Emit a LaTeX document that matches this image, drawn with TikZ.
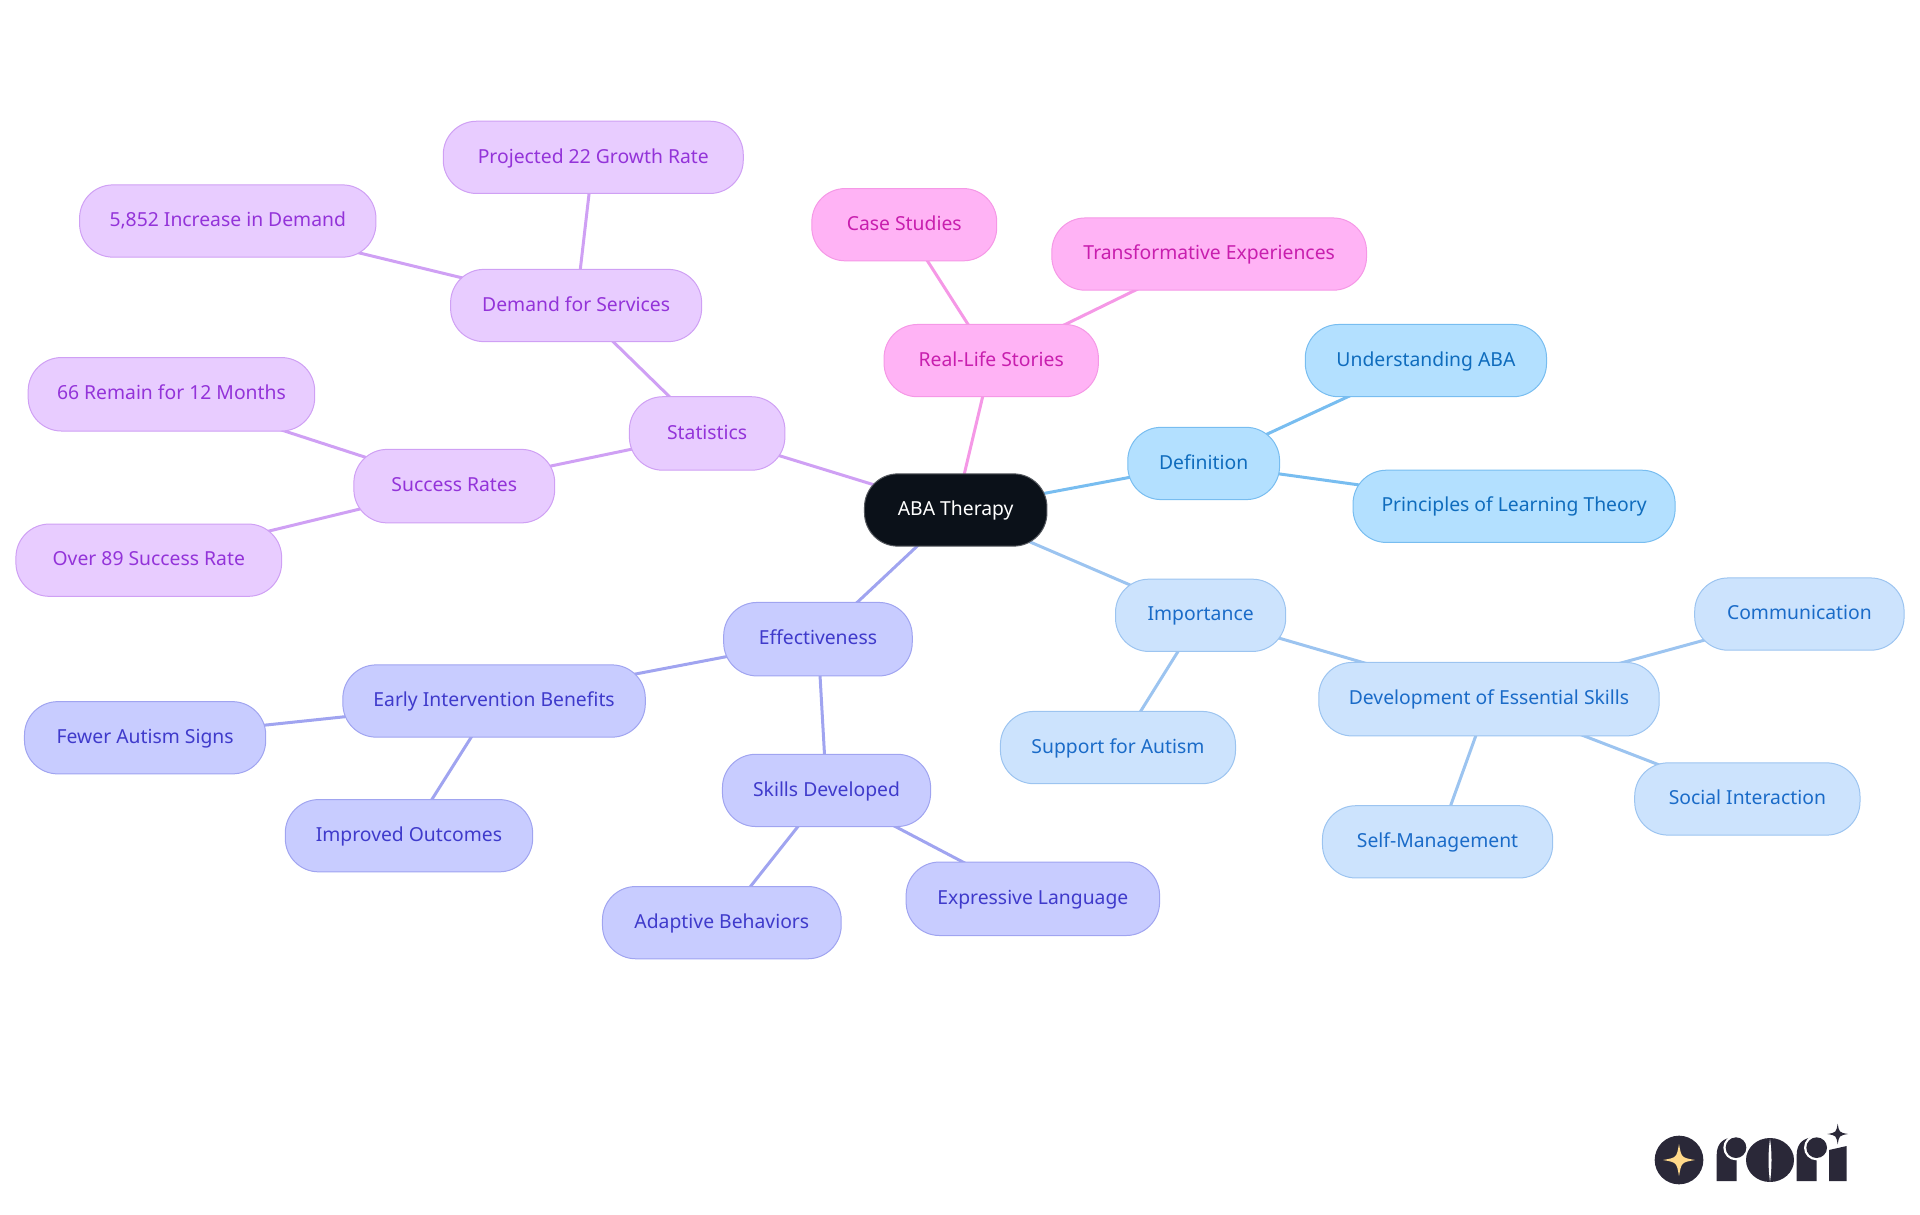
\documentclass[tikz,border=0pt]{standalone}
\usepackage{fontspec}
\setmainfont{Noto Sans}
\usetikzlibrary{backgrounds}
\definecolor{rootfill}{HTML}{0B1119}
\definecolor{rootline}{HTML}{55595F}
\definecolor{deffill}{HTML}{B3E0FF}\definecolor{defline}{HTML}{78BDF0}\definecolor{deftext}{HTML}{0F6CBD}
\definecolor{impfill}{HTML}{CCE3FD}\definecolor{impline}{HTML}{9CC4F0}\definecolor{imptext}{HTML}{1A6BC8}
\definecolor{realfill}{HTML}{FFB3F5}\definecolor{realline}{HTML}{F598E6}\definecolor{realtext}{HTML}{C81EAE}
\definecolor{statfill}{HTML}{E8CCFF}\definecolor{statline}{HTML}{CFA0F4}\definecolor{stattext}{HTML}{9333D9}
\definecolor{efffill}{HTML}{C8CCFF}\definecolor{effline}{HTML}{A0A4F0}\definecolor{efftext}{HTML}{3F3ACB}
\definecolor{logodark}{HTML}{2A2838}
\definecolor{logostar}{HTML}{FFD98A}
\tikzset{
  mm/.style={rectangle,rounded corners=25pt,inner sep=0pt,line width=0.75pt,text height=10.5pt,text depth=2pt,font=\fontsize{14.5}{17}\selectfont},
  rootn/.style={mm,fill=rootfill,draw=rootline,text=white},
  defn/.style={mm,fill=deffill,draw=defline,text=deftext},
  impn/.style={mm,fill=impfill,draw=impline,text=imptext},
  realn/.style={mm,fill=realfill,draw=realline,text=realtext},
  statn/.style={mm,fill=statfill,draw=statline,text=stattext},
  effn/.style={mm,fill=efffill,draw=effline,text=efftext},
  defe/.style={draw=defline,line width=2.25pt},
  impe/.style={draw=impline,line width=2.25pt},
  reale/.style={draw=realline,line width=2.25pt},
  state/.style={draw=statline,line width=2.25pt},
  effe/.style={draw=effline,line width=2.25pt},
}
\newcommand{\mmnode}[7]{\node[#7,minimum width={(#4-#2)*0.91837pt},minimum height={(#5-#3)*0.91837pt}] (#1) at ({(#2+#4)/2},{(#3+#5)/2}) {#6};}
\newcommand{\fourstar}[4]{\fill[#4] (#1-#3,#2) .. controls (#1-0.15*#3,#2-0.15*#3) .. (#1,#2-#3) .. controls (#1+0.15*#3,#2-0.15*#3) .. (#1+#3,#2) .. controls (#1+0.15*#3,#2+0.15*#3) .. (#1,#2+#3) .. controls (#1-0.15*#3,#2+0.15*#3) .. cycle;}
\begin{document}
\begin{tikzpicture}[x=0.91837pt,y=-0.91837pt]
\useasboundingbox (0,0) rectangle (1568,992.25);
\mmnode{root}{706}{387}{855}{446}{ABA Therapy}{rootn}
\mmnode{definition}{921}{349}{1045}{408}{Definition}{defn}
\mmnode{understanding}{1066}{265}{1263}{324}{Understanding ABA}{defn}
\mmnode{principles}{1105}{384}{1368}{443}{Principles of Learning Theory}{defn}
\mmnode{importance}{911}{473}{1050}{532}{Importance}{impn}
\mmnode{development}{1077}{541}{1355}{601}{Development of Essential Skills}{impn}
\mmnode{communication}{1384}{472}{1555}{531}{Communication}{impn}
\mmnode{social}{1335}{623}{1519}{682}{Social Interaction}{impn}
\mmnode{selfm}{1080}{658}{1268}{717}{Self-Management}{impn}
\mmnode{support}{817}{581}{1009}{640}{Support for Autism}{impn}
\mmnode{real}{722}{265}{897}{324}{Real-Life Stories}{realn}
\mmnode{cases}{663}{154}{814}{213}{Case Studies}{realn}
\mmnode{transform}{859}{178}{1116}{237}{Transformative Experiences}{realn}
\mmnode{statistics}{514}{324}{641}{384}{Statistics}{statn}
\mmnode{demand}{368}{220}{573}{279}{Demand for Services}{statn}
\mmnode{projected}{362}{99}{607}{158}{Projected 22 Growth Rate}{statn}
\mmnode{increase}{65}{151}{307}{210}{5,852 Increase in Demand}{statn}
\mmnode{success}{289}{367}{453}{427}{Success Rates}{statn}
\mmnode{remain}{23}{292}{257}{352}{66 Remain for 12 Months}{statn}
\mmnode{over}{13}{428}{230}{487}{Over 89 Success Rate}{statn}
\mmnode{effect}{591}{492}{745}{552}{Effectiveness}{effn}
\mmnode{early}{280}{543}{527}{602}{Early Intervention Benefits}{effn}
\mmnode{fewer}{20}{573}{217}{632}{Fewer Autism Signs}{effn}
\mmnode{improved}{233}{653}{435}{712}{Improved Outcomes}{effn}
\mmnode{skills}{590}{616}{760}{675}{Skills Developed}{effn}
\mmnode{adaptive}{492}{724}{687}{783}{Adaptive Behaviors}{effn}
\mmnode{expressive}{740}{704}{947}{764}{Expressive Language}{effn}
\begin{pgfonlayer}{background}
\draw[defe] (root.center) -- (definition.center);
\draw[defe] (definition.center) -- (understanding.center);
\draw[defe] (definition.center) -- (principles.center);
\draw[impe] (root.center) -- (importance.center);
\draw[impe] (importance.center) -- (development.center);
\draw[impe] (importance.center) -- (support.center);
\draw[impe] (development.center) -- (communication.center);
\draw[impe] (development.center) -- (social.center);
\draw[impe] (development.center) -- (selfm.center);
\draw[reale] (root.center) -- (real.center);
\draw[reale] (real.center) -- (cases.center);
\draw[reale] (real.center) -- (transform.center);
\draw[state] (root.center) -- (statistics.center);
\draw[state] (statistics.center) -- (demand.center);
\draw[state] (statistics.center) -- (success.center);
\draw[state] (demand.center) -- (projected.center);
\draw[state] (demand.center) -- (increase.center);
\draw[state] (success.center) -- (remain.center);
\draw[state] (success.center) -- (over.center);
\draw[effe] (root.center) -- (effect.center);
\draw[effe] (effect.center) -- (early.center);
\draw[effe] (effect.center) -- (skills.center);
\draw[effe] (early.center) -- (fewer.center);
\draw[effe] (early.center) -- (improved.center);
\draw[effe] (skills.center) -- (adaptive.center);
\draw[effe] (skills.center) -- (expressive.center);
\end{pgfonlayer}
% logo, in coordinates of the 3x crop
\begin{scope}[x=0.25pt,y=-0.25pt,shift={(1215pt,-825pt)}]
\fill[logodark] (177,180) circle (73);
\fourstar{177}{180}{48}{logostar}
% first r
\fill[logodark] (290,243) -- (290,165) .. controls (290,135) and (305,118) .. (330,113) -- (350,150) -- (350,243) -- cycle;
\fill[white] (348,143) circle (38);
\fill[logodark] (348,143) circle (31);
% o
\fill[logodark] (450,180) ellipse (72 and 66);
\fill[white] (450,116) .. controls (444,160) and (444,200) .. (450,246) .. controls (456,200) and (456,160) .. (450,116) -- cycle;
% second r
\fill[logodark] (530,243) -- (530,165) .. controls (530,135) and (545,118) .. (570,113) -- (590,150) -- (590,243) -- cycle;
% i
\fill[logodark] (627,243) -- (627,150) -- (680,138) -- (680,243) -- cycle;
\fill[white] (590,143) circle (38);
\fill[logodark] (590,143) circle (31);
\fill[white] (653,102) circle (36);
\fourstar{653}{102}{31}{logodark}
\end{scope}
\end{tikzpicture}
\end{document}
